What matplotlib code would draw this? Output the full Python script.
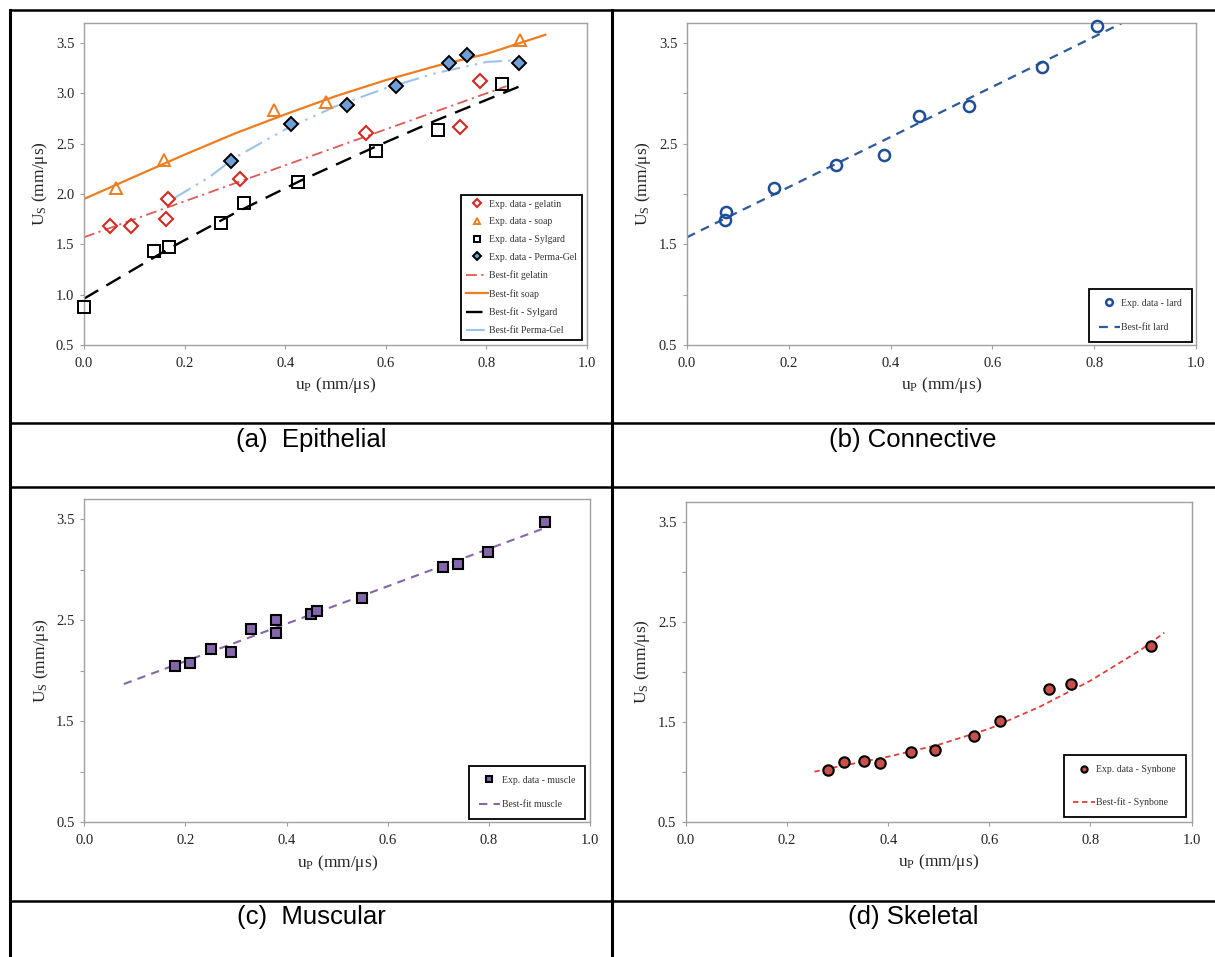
import numpy as np
import matplotlib
matplotlib.use('Agg')
import matplotlib.pyplot as plt
from matplotlib.lines import Line2D
from matplotlib.ticker import MultipleLocator, FixedLocator

plt.rcParams['font.family'] = ['Liberation Serif', 'DejaVu Serif']
plt.rcParams['mathtext.fontset'] = 'custom'
plt.rcParams['mathtext.rm'] = 'Liberation Serif'
plt.rcParams['mathtext.it'] = 'Liberation Serif:italic'

# --- (a) Epithelial: experimental data ---
gel_up = [0.051, 0.093, 0.167, 0.164, 0.311, 0.561, 0.747, 0.787]
gel_us = [1.68, 1.68, 1.95, 1.75, 2.15, 2.60, 2.66, 3.12]
soap_up = [0.063, 0.159, 0.377, 0.482, 0.867]
soap_us = [2.06, 2.34, 2.83, 2.91, 3.53]
syl_up = [0.0, 0.140, 0.169, 0.273, 0.319, 0.425, 0.581, 0.703, 0.831]
syl_us = [0.88, 1.43, 1.47, 1.71, 1.91, 2.12, 2.43, 2.63, 3.09]
pg_up = [0.292, 0.411, 0.523, 0.620, 0.725, 0.762, 0.865]
pg_us = [2.33, 2.69, 2.88, 3.07, 3.30, 3.38, 3.30]

# best-fit curves
gel_fit_up = [0.0, 0.84]
gel_fit_us = [1.57, 3.07]
soap_fit_up = [0.0, 0.1, 0.2, 0.3, 0.4, 0.5, 0.6, 0.7, 0.8, 0.917]
soap_fit_us = [1.95, 2.17, 2.39, 2.60, 2.79, 2.97, 3.13, 3.27, 3.39, 3.58]
syl_fit_up = [0.0, 0.17, 0.30, 0.43, 0.58, 0.70, 0.877]
syl_fit_us = [0.96, 1.46, 1.81, 2.13, 2.47, 2.73, 3.09]
pg_fit_up = [0.18, 0.25, 0.30, 0.40, 0.50, 0.60, 0.70, 0.80, 0.87]
pg_fit_us = [1.96, 2.17, 2.36, 2.64, 2.87, 3.05, 3.20, 3.31, 3.33]

# --- (b) Connective ---
lard_up = [0.074, 0.076, 0.170, 0.293, 0.387, 0.456, 0.555, 0.698, 0.805]
lard_us = [1.74, 1.82, 2.06, 2.29, 2.39, 2.77, 2.87, 3.26, 3.67]
lard_fit_up = [0.0, 0.86]
lard_fit_us = [1.57, 3.71]

# --- (c) Muscular ---
mus_up = [0.180, 0.209, 0.250, 0.290, 0.329, 0.380, 0.380, 0.449, 0.460, 0.550,
          0.710, 0.740, 0.799, 0.911]
mus_us = [2.05, 2.08, 2.22, 2.19, 2.42, 2.50, 2.38, 2.56, 2.59, 2.72,
          3.03, 3.06, 3.18, 3.48]
mus_fit_up = [0.078, 0.919]
mus_fit_us = [1.87, 3.43]

# --- (d) Skeletal ---
syn_up = [0.280, 0.312, 0.352, 0.384, 0.446, 0.493, 0.569, 0.622, 0.717, 0.761, 0.919]
syn_us = [1.02, 1.10, 1.11, 1.09, 1.20, 1.22, 1.36, 1.51, 1.83, 1.88, 2.26]
syn_fit_up = [0.254, 0.30, 0.40, 0.50, 0.60, 0.70, 0.80, 0.90, 0.946]
syn_fit_us = [1.00, 1.05, 1.15, 1.27, 1.43, 1.65, 1.91, 2.22, 2.39]

captions = ['(a)  Epithelial', '(b) Connective', '(c)  Muscular', '(d) Skeletal']

W, H = 1215, 957
fig = plt.figure(figsize=(W / 100, H / 100), dpi=100)


def make_axes(x0, x1, y0, y1):
	# pixel box -> figure fraction
	return fig.add_axes([x0 / W, 1 - y1 / H, (x1 - x0) / W, (y1 - y0) / H])


def style(ax, every_half):
	ax.set_xlim(0, 1.0)
	ax.set_ylim(0.5, 3.7)
	ax.xaxis.set_major_locator(MultipleLocator(0.2))
	ax.xaxis.set_major_formatter('{x:.1f}')
	if every_half:
		ax.yaxis.set_major_locator(MultipleLocator(0.5))
	else:
		ax.yaxis.set_major_locator(FixedLocator([0.5, 1.5, 2.5, 3.5]))
		ax.yaxis.set_minor_locator(FixedLocator([1.0, 2.0, 3.0]))
	ax.yaxis.set_major_formatter('{x:.1f}')
	for s in ax.spines.values():
		s.set_color('#a0a0a0')
		s.set_linewidth(1.0)
	ax.tick_params(which='both', direction='out', length=3, width=0.8,
				   color='#a0a0a0', labelsize=10.5, labelcolor='#222222')
	ax.tick_params(axis='x', pad=5.5)
	ax.tick_params(axis='y', pad=4)
	ax.set_xlabel('u$_\\mathrm{P}$ (mm/μs)', fontsize=12.5, labelpad=4, color='#222222')
	ax.set_ylabel('U$_\\mathrm{S}$ (mm/μs)', fontsize=12.5, labelpad=4, color='#222222')


def legend(ax, x, y, spacing, pad):
	leg = ax.legend(loc='lower right', bbox_to_anchor=(x, y), borderaxespad=0,
					fontsize=7, labelspacing=spacing, handlelength=2.2,
					handletextpad=0.15, borderpad=pad, fancybox=False,
					framealpha=1, edgecolor='black', markerscale=0.6)
	leg.get_frame().set_linewidth(1.3)
	for t in leg.get_texts():
		t.set_color('#333333')


# (a)
ax = make_axes(84, 587, 22.7, 345)
ax.plot(gel_up, gel_us, 'D', ms=7, mfc='none', mec='#d42a22', mew=1.5, label='Exp. data - gelatin', zorder=4, clip_on=False)
ax.plot(soap_up, soap_us, '^', ms=8, mfc='none', mec='#ee7d22', mew=1.4, label='Exp. data - soap', zorder=4, clip_on=False)
ax.plot(syl_up, syl_us, 's', ms=8, mfc='none', mec='black', mew=1.4, label='Exp. data - Sylgard', zorder=4, clip_on=False)
ax.plot(pg_up, pg_us, 'D', ms=7, mfc='#6f9fd6', mec='black', mew=1.4, label='Exp. data - Perma-Gel', zorder=4, clip_on=False)
ax.plot(gel_fit_up, gel_fit_us, color='#de5a55', lw=1.3, dashes=(6, 2.5, 1.2, 2.5), label='Best-fit gelatin')
ax.plot(soap_fit_up, soap_fit_us, color='#ee7d22', lw=1.6, label='Best-fit soap')
ax.plot(syl_fit_up, syl_fit_us, color='black', lw=1.7, dashes=(7, 4), label='Best-fit - Sylgard')
ax.plot(pg_fit_up, pg_fit_us, color='#9cc3ea', lw=1.5, dashes=(9, 3, 1.2, 3, 1.2, 3), label='Best-fit Perma-Gel')
style(ax, True)
legend(ax, 0.99, 0.016, 0.9, 0.5)

# (b)
ax = make_axes(687, 1196, 22.7, 345)
ax.plot(lard_up, lard_us, 'o', ms=8, mfc='none', mec='#1f4e96', mew=1.8, label='Exp. data - lard', zorder=4, clip_on=False)
ax.plot(lard_fit_up, lard_fit_us, color='#2c5a9e', lw=1.6, dashes=(4, 3), label='Best-fit lard')
style(ax, False)
legend(ax, 0.992, 0.009, 1.6, 1.0)

# (c)
ax = make_axes(84.4, 589.7, 499.3, 822.3)
ax.plot(mus_up, mus_us, 's', ms=7.5, mfc='#8466aa', mec='black', mew=1.5, label='Exp. data - muscle', zorder=4, clip_on=False)
ax.plot(mus_fit_up, mus_fit_us, color='#8466aa', lw=1.5, dashes=(4, 3), label='Best-fit muscle')
style(ax, False)
legend(ax, 0.99, 0.01, 1.6, 1.0)

# (d)
ax = make_axes(686, 1191.6, 501.7, 821.7)
ax.plot(syn_up, syn_us, 'o', ms=7.5, mfc='#c8504a', mec='black', mew=1.5, label='Exp. data - Synbone', zorder=4, clip_on=False)
ax.plot(syn_fit_up, syn_fit_us, color='#e0403a', lw=1.3, dashes=(3, 2), label='Best-fit - Synbone')
style(ax, False)
legend(ax, 0.988, 0.015, 2.4, 1.0)

# table grid around the panels
grid = fig.add_axes([0, 0, 1, 1], zorder=-1)
grid.set_xlim(0, W)
grid.set_ylim(H, 0)
grid.axis('off')
for y in [10, 423, 487, 901]:
	grid.add_line(Line2D([10, W], [y, y], color='black', lw=1.8))
grid.add_line(Line2D([10, 10], [10, H], color='black', lw=2.2))
grid.add_line(Line2D([612, 612], [10, H], color='black', lw=2.2))

cap_pos = [(311, 440), (913, 440), (311, 917), (913, 917)]
for (cx, cy), txt in zip(cap_pos, captions):
	grid.text(cx, cy, txt, ha='center', va='center', fontsize=18.5,
			  family=['Liberation Sans', 'DejaVu Sans'])

fig.savefig('out.png', dpi=100)
